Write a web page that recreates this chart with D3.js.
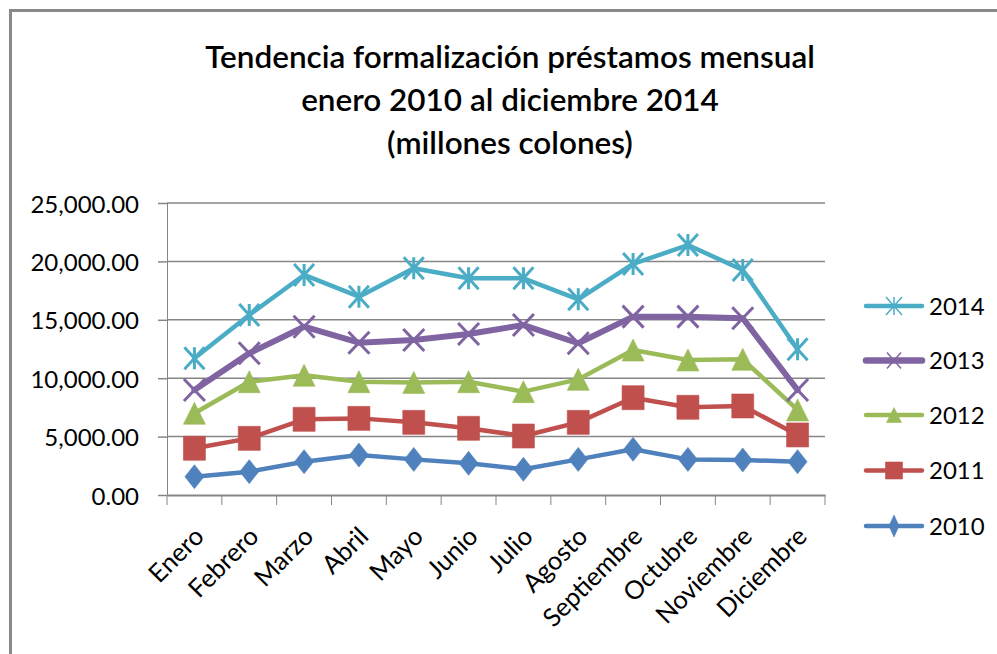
<!DOCTYPE html>
<html>
<head>
<meta charset="utf-8">
<script src="https://cdn.jsdelivr.net/npm/d3@7"></script>
<style>
  html, body { margin: 0; padding: 0; background: #fff; }
  svg { display: block; }
  text { font-family: Lato, "Open Sans", sans-serif; fill: #000; }
</style>
</head>
<body>
<svg id="chart" width="997" height="654"></svg>
<script>
// ---- data ----
const titleLines = ["Tendencia formalización préstamos mensual", "enero 2010 al diciembre 2014", "(millones colones)"];
const months = ["Enero","Febrero","Marzo","Abril","Mayo","Junio","Julio","Agosto","Septiembre","Octubre","Noviembre","Diciembre"];
const yTicks = [0, 5000, 10000, 15000, 20000, 25000];
const seriesNames = ["2010", "2011", "2012", "2013", "2014"];
const v2010 = [1570, 2000, 2850, 3420, 3050, 2710, 2200, 3050, 3910, 3050, 3000, 2850];
const v2011 = [4000, 4850, 6480, 6560, 6220, 5710, 5050, 6220, 8330, 7510, 7620, 5140];
const v2012 = [7000, 9700, 10250, 9700, 9640, 9700, 8850, 9900, 12410, 11560, 11620, 7280];
const v2013 = [8990, 12130, 14410, 13040, 13270, 13780, 14550, 12990, 15270, 15270, 15130, 8990];
const v2014 = [11700, 15410, 18840, 16980, 19410, 18550, 18550, 16750, 19780, 21400, 19260, 12470];
const seriesValues = [v2010, v2011, v2012, v2013, v2014];

// ---- styles ----
const colors = ["#4F81BD", "#C0504D", "#9BBB59", "#8064A2", "#4BACC6"];
const markerTypes = ["diamond", "square", "triangle", "x", "star"];
const lineWidths = [4.5, 4.5, 4.5, 6, 4.5];

const svg = d3.select("#chart");
const W = 997, H = 654;

// outer chart border (only top/left visible)
svg.append("path")
  .attr("d", `M10.5,${H} V10.5 H${W}`)
  .attr("fill", "none").attr("stroke", "#898989").attr("stroke-width", 3);

// title
const title = svg.append("g");
const titleBaselines = [68, 111, 154];
const titleTexts = titleLines.map((t, i) => title.append("text")
    .attr("x", 510).attr("y", titleBaselines[i])
    .attr("text-anchor", "middle")
    .attr("font-size", 28)
    .attr("font-weight", 600)
    .text(t));
// fit title size so the first line spans about the same width as in the reference
const w0 = titleTexts[0].node().getComputedTextLength();
const fs = 28 * 610 / w0;
titleTexts.forEach(t => t.attr("font-size", fs));

const plot = { left: 167, right: 825, top: 203, bottom: 495 };

const x = d3.scaleBand().domain(months).range([plot.left, plot.right]).padding(0);
const y = d3.scaleLinear().domain([0, 25000]).range([plot.bottom, plot.top]);

// gridlines
svg.append("g")
  .selectAll("line").data(yTicks.filter(d => d > 0)).join("line")
  .attr("x1", plot.left).attr("x2", plot.right)
  .attr("y1", d => y(d)).attr("y2", d => y(d))
  .attr("stroke", "#868686").attr("stroke-width", 1.5);

// y axis
const yAxis = svg.append("g")
  .attr("transform", `translate(${plot.left},0)`)
  .call(d3.axisLeft(y).tickValues(yTicks).tickSize(9).tickPadding(19)
        .tickFormat(d3.format(",.2f")));
yAxis.select(".domain").attr("stroke", "#868686").attr("stroke-width", 1);
yAxis.selectAll(".tick line").attr("stroke", "#868686").attr("stroke-width", 1.5);
yAxis.selectAll(".tick text")
  .attr("font-size", 24).attr("font-family", "Lato, sans-serif").attr("fill", "#000")
  .attr("dy", "0.38em");

// x axis
const xAxis = svg.append("g")
  .attr("transform", `translate(0,${plot.bottom})`)
  .call(d3.axisBottom(x).tickSize(0).tickFormat(""));
xAxis.select(".domain").attr("stroke", "#868686").attr("stroke-width", 2);
// boundary ticks between categories
const bounds = months.map(m => x(m)).concat([plot.right]);
svg.append("g").selectAll("line").data(bounds).join("line")
  .attr("x1", d => d).attr("x2", d => d)
  .attr("y1", plot.bottom).attr("y2", plot.bottom + 10)
  .attr("stroke", "#868686").attr("stroke-width", 1);

// x labels rotated
svg.append("g").selectAll("text").data(months).join("text")
  .attr("transform", d => `translate(${x(d) + x.bandwidth() / 2 + 11},538) rotate(-45)`)
  .attr("text-anchor", "end")
  .attr("font-size", 25.5)
  .text(d => d);

// marker path generator (shape relative to its own centre)
function markerPath(type, w, h) {
  const hw = w / 2, hh = h / 2;
  switch (type) {
    case "diamond": return `M0,${-hh}L${hw},0L0,${hh}L${-hw},0Z`;
    case "square": return `M${-hw},${-hh}H${hw}V${hh}H${-hw}Z`;
    case "triangle": return `M0,${-hh}L${hw},${hh}L${-hw},${hh}Z`;
    case "x": return `M${-hw},${-hh}L${hw},${hh}M${hw},${-hh}L${-hw},${hh}`;
    case "star": return `M${-hw},${-hh}L${hw},${hh}M${hw},${-hh}L${-hw},${hh}M0,${-hh}V${hh}`;
  }
}
const markerSize = {
  diamond: [19, 24], square: [22, 24], triangle: [22, 22], x: [21, 22], star: [20, 22]
};
const legendMarkerSize = {
  diamond: [10, 22], square: [17, 17], triangle: [15, 15], x: [14, 16], star: [16, 18]
};

function drawMarker(g, type, color, size, strokeW) {
  const [w, h] = size;
  const p = g.append("path").attr("d", markerPath(type, w, h));
  if (type === "x" || type === "star") {
    p.attr("fill", "none").attr("stroke", color).attr("stroke-width", strokeW);
  } else {
    p.attr("fill", color).attr("stroke", color).attr("stroke-opacity", 0.6).attr("stroke-width", 1);
  }
}

const line = d3.line().x((d, i) => x(months[i]) + x.bandwidth() / 2).y(d => y(d));

seriesValues.forEach((vals, si) => {
  const g = svg.append("g");
  g.append("path").datum(vals)
    .attr("d", line)
    .attr("fill", "none")
    .attr("stroke", colors[si])
    .attr("stroke-width", lineWidths[si])
    .attr("stroke-linejoin", "round")
    .attr("stroke-linecap", "round");
  vals.forEach((v, i) => {
    const mg = g.append("g")
      .attr("transform", `translate(${x(months[i]) + x.bandwidth() / 2},${y(v)})`);
    drawMarker(mg, markerTypes[si], colors[si], markerSize[markerTypes[si]], 3);
  });
});

// legend (2014 on top)
const legendOrder = [4, 3, 2, 1, 0];
const legendY = [306, 360.5, 415, 470.5, 526];
const legend = svg.append("g");
legendOrder.forEach((si, k) => {
  const g = legend.append("g").attr("transform", `translate(0,${legendY[k]})`);
  g.append("line")
    .attr("x1", 866).attr("x2", 922).attr("y1", 0).attr("y2", 0)
    .attr("stroke", colors[si]).attr("stroke-width", si === 3 ? 6.5 : 4.5)
    .attr("stroke-linecap", "round");
  const mg = g.append("g").attr("transform", "translate(894,0)");
  drawMarker(mg, markerTypes[si], colors[si], legendMarkerSize[markerTypes[si]], 1.5);
  g.append("text")
    .attr("x", 929).attr("y", 0).attr("dy", "0.36em")
    .attr("font-size", 24)
    .text(seriesNames[si]);
});
</script>
</body>
</html>
